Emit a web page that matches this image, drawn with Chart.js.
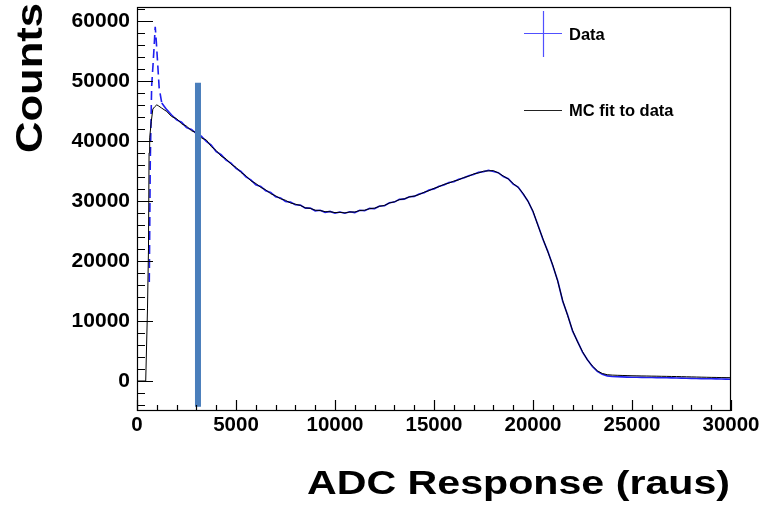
<!DOCTYPE html>
<html>
<head>
<meta charset="utf-8">
<script src="https://cdn.jsdelivr.net/npm/chart.js@4.4.1/dist/chart.umd.min.js"></script>
<style>
  html, body { margin: 0; padding: 0; background: #fff; }
  #c { display: block; }
</style>
</head>
<body>
<canvas id="c" width="772" height="505"></canvas>
<script>
// ---- axis ranges / ticks ----
const xRange = [0, 30000];
const yRange = [-5000, 62300];
const xTicks = [0, 5000, 10000, 15000, 20000, 25000, 30000];
const yTicks = [0, 10000, 20000, 30000, 40000, 50000, 60000];

// ---- common bins (ADC) from 1250 on ----
const binX = [
  1250, 1500, 1750, 2000, 2250, 2500, 2750, 3000, 3250, 3500, 3750, 4000,
  4250, 4500, 4750, 5000, 5250, 5500, 5750, 6000, 6250, 6500, 6750, 7000,
  7250, 7500, 7750, 8000, 8250, 8500, 8750, 9000, 9250, 9500, 9750, 10000,
  10250, 10500, 10750, 11000, 11250, 11500, 11750, 12000, 12250, 12500, 12750, 13000,
  13250, 13500, 13750, 14000, 14250, 14500, 14750, 15000, 15250, 15500, 15750, 16000,
  16250, 16500, 16750, 17000, 17250, 17500, 17750, 18000, 18250, 18500, 18750, 19000,
  19250, 19500, 19750, 20000, 20250, 20500, 20750, 21000, 21250, 21500, 21750, 22000,
  22250, 22500, 22750, 23000, 23250, 23500, 23750, 24000, 24250, 24500, 24750, 25000,
  25250, 25500, 25750, 26000, 26250, 26500, 26750, 27000, 27250, 27500, 27750, 28000,
  28250, 28500, 28750, 29000, 29250, 29500, 29750, 30000
];

// ---- MC fit (black) ----
const mcHeadX = [0, 440, 530, 580, 610, 640, 720, 800, 900, 1000, 1100];
const mcHeadY = [0, 0, 12000, 22000, 38000, 40500, 43200, 45300, 45700, 46000, 45800];
const mcBodyY = [
  45450, 44900, 44050, 43700, 42850, 42450, 41700, 41350, 40500, 40150, 39050, 38400,
  37450, 37000, 36100, 35600, 34750, 34200, 33350, 32900, 32250, 31850, 31200, 30850,
  30350, 30100, 29650, 29450, 29250, 28850, 28750, 28450, 28400, 28200, 28200, 28050,
  28100, 28000, 28150, 28150, 28400, 28450, 28700, 28800, 29100, 29250, 29650, 29850,
  30200, 30350, 30650, 30800, 31050, 31450, 31700, 32100, 32350, 32750, 32950, 33300,
  33500, 33900, 34100, 34500, 34650, 34950, 35000, 35050, 34650, 34150, 33650, 32900,
  32250, 31250, 29900, 28300, 25900, 23700, 21500, 19300, 16600, 13400, 10900, 8400,
  6500, 4900, 3500, 2500, 1700, 1250, 1050, 980, 950, 920, 900, 870,
  860, 840, 830, 810, 800, 780, 770, 750, 740, 720, 700, 680,
  660, 640, 620, 600, 590, 570, 560, 550
];

// ---- Data (blue) ----
const dataHeadX = [620, 670, 740, 810, 870, 920, 970, 1040, 1120];
const dataHeadY = [16500, 36500, 49100, 52700, 56000, 59000, 56800, 53100, 48800];
const dataBodyY = [
  46300, 45200, 44300, 43500, 43100, 42200, 41900, 41200, 40800, 39900, 39300, 38200,
  37700, 36800, 36300, 35400, 34900, 34000, 33500, 32700, 32400, 31700, 31400, 30700,
  30500, 29900, 29800, 29350, 29300, 28800, 28800, 28350, 28450, 28100, 28250, 27950,
  28150, 27950, 28200, 28050, 28450, 28350, 28750, 28700, 29150, 29200, 29700, 29800,
  30250, 30300, 30700, 30750, 31150, 31350, 31800, 32000, 32450, 32650, 33050, 33200,
  33600, 33800, 34200, 34400, 34750, 34850, 35100, 34900, 34700, 34050, 33700, 32800,
  32300, 31150, 29950, 28200, 26000, 23600, 21600, 19200, 16700, 13300, 11000, 8300,
  6600, 4800, 3550, 2400, 1600, 1100, 850, 750, 700, 680, 650, 630,
  620, 600, 590, 580, 560, 550, 530, 520, 500, 480, 460, 440,
  420, 400, 380, 360, 350, 330, 310, 300
];

// ---- marker bar ----
const markerX = [3080, 3080];
const markerY = [-4300, 49700];

// ---- texts ----
const xTitle = "ADC Response (raus)";
const yTitle = "Counts";
const legendLabels = ["Data", "MC fit to data"];

const C = { blue: "#1f1ff0", legendBlue: "#5050ff", ink: "#000000", bar: "#4a7ebb" };
const FONT = "'Liberation Sans', Arial, Helvetica, sans-serif";

function pts(xs, ys) { return xs.map((x, i) => ({ x: x, y: ys[i] })); }

// ROOT-like frame, inward ticks, titles and legend
const rootStyle = {
  id: "rootStyle",
  afterDatasetsDraw(chart) {
    const { ctx, chartArea: a, scales: { x, y } } = chart;
    ctx.save();
    ctx.strokeStyle = C.ink;
    ctx.lineWidth = 1.2;
    ctx.beginPath();
    // y ticks: major every 10000, minor every 2000
    for (let v = -4000; v <= 62000; v += 2000) {
      const py = Math.round(y.getPixelForValue(v)) + 0.5;
      const len = v % 10000 === 0 ? 16 : 8;
      ctx.moveTo(a.left, py); ctx.lineTo(a.left + len, py);
    }
    // x ticks: major every 5000, minor every 1000
    for (let v = 0; v <= 30000; v += 1000) {
      const px = Math.round(x.getPixelForValue(v)) + 0.5;
      const len = v % 5000 === 0 ? 11 : 6;
      ctx.moveTo(px, a.bottom); ctx.lineTo(px, a.bottom - len);
    }
    ctx.stroke();
    ctx.strokeRect(a.left + 0.5, a.top + 0.5, a.right - a.left - 1, a.bottom - a.top - 1);

    // legend
    ctx.lineWidth = 1.2;
    ctx.strokeStyle = C.legendBlue;
    ctx.beginPath();
    ctx.moveTo(524, 33.5); ctx.lineTo(562, 33.5);
    ctx.moveTo(543.5, 11); ctx.lineTo(543.5, 57);
    ctx.stroke();
    ctx.strokeStyle = "#222";
    ctx.lineWidth = 1;
    ctx.beginPath();
    ctx.moveTo(524, 110.5); ctx.lineTo(562, 110.5);
    ctx.stroke();
    ctx.fillStyle = C.ink;
    ctx.font = "bold 16.5px " + FONT;
    ctx.textBaseline = "alphabetic";
    ctx.textAlign = "left";
    ctx.fillText(legendLabels[0], 569, 40);
    ctx.fillText(legendLabels[1], 569, 116);

    // x title, stretched to its span
    ctx.font = "bold 33px " + FONT;
    let w = ctx.measureText(xTitle).width;
    ctx.save();
    ctx.translate(307, 494);
    ctx.scale(423 / w, 1);
    ctx.fillText(xTitle, 0, 0);
    ctx.restore();

    // y title, rotated
    ctx.font = "bold 37px " + FONT;
    w = ctx.measureText(yTitle).width;
    ctx.save();
    ctx.translate(42, 153);
    ctx.rotate(-Math.PI / 2);
    ctx.scale(150 / w, 1);
    ctx.fillText(yTitle, 0, 0);
    ctx.restore();
    ctx.restore();
  }
};

new Chart(document.getElementById("c"), {
  type: "scatter",
  data: {
    datasets: [
      { label: "marker", data: pts(markerX, markerY), showLine: true, borderColor: C.bar, borderWidth: 6,
        borderCapStyle: "butt", pointRadius: 0, order: 0 },
      { label: legendLabels[1], data: pts(mcHeadX.concat(binX), mcHeadY.concat(mcBodyY)), showLine: true,
        borderColor: C.ink, borderWidth: 1, pointRadius: 0, tension: 0, order: 1 },
      { label: legendLabels[0], data: pts(dataHeadX.concat(binX), dataHeadY.concat(dataBodyY)), showLine: true,
        borderColor: C.blue, borderWidth: 1.6, pointRadius: 0, tension: 0, order: 2,
        segment: { borderDash: (c) => (c.p1.parsed.x <= 1250 ? [9, 5] : undefined) } },
    ],
  },
  options: {
    responsive: false,
    devicePixelRatio: 1,
    animation: false,
    layout: { padding: { top: 7, right: 41, left: 0, bottom: 0 } },
    plugins: { legend: { display: false }, tooltip: { enabled: false } },
    scales: {
      x: {
        type: "linear", min: xRange[0], max: xRange[1],
        afterBuildTicks: (s) => { s.ticks = xTicks.map((v) => ({ value: v })); },
        afterFit: (s) => { s.height = 94; s.paddingLeft = 0; s.paddingRight = 0; },
        grid: { display: false, drawTicks: false }, border: { display: false },
        ticks: { color: C.ink, padding: 2, maxRotation: 0, callback: (v) => String(v),
          font: { family: FONT, size: 20.5, weight: "bold" } },
      },
      y: {
        type: "linear", min: yRange[0], max: yRange[1],
        afterBuildTicks: (s) => { s.ticks = yTicks.map((v) => ({ value: v })); },
        afterFit: (s) => { s.width = 137; s.paddingTop = 0; s.paddingBottom = 0; },
        grid: { display: false, drawTicks: false }, border: { display: false },
        ticks: { color: C.ink, padding: 7, callback: (v) => String(v),
          font: { family: FONT, size: 21, weight: "bold" } },
      },
    },
  },
  plugins: [rootStyle],
});
</script>
</body>
</html>
